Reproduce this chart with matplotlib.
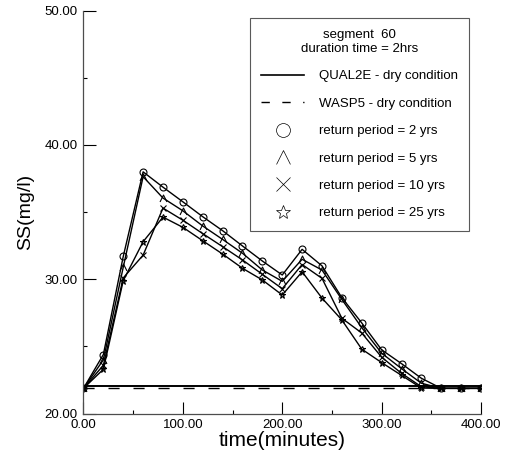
import numpy as np
import matplotlib
matplotlib.use('Agg')
import matplotlib.pyplot as plt
from matplotlib.lines import Line2D
from matplotlib.path import Path
from matplotlib.ticker import FormatStrFormatter, MultipleLocator

plt.rcParams['font.family'] = ['Liberation Sans', 'DejaVu Sans']

# time (minutes), one marker every 20 minutes
time = [0, 20, 40, 60, 80, 100, 120, 140, 160, 180, 200,
        220, 240, 260, 280, 300, 320, 340, 360, 380, 400]

# SS (mg/l) for each return period
ss_2yrs = [21.88, 24.4, 31.7, 38.0, 36.86, 35.77, 34.66, 33.62, 32.48, 31.36, 30.32,
           32.23, 31.0, 28.63, 26.75, 24.75, 23.72, 22.63, 21.88, 21.88, 21.88]
ss_5yrs = [21.88, 24.0, 30.9, 37.64, 36.05, 35.1, 33.97, 32.97, 31.94, 30.69, 29.85,
           31.49, 30.69, 28.5, 26.4, 24.5, 23.35, 22.26, 21.88, 21.88, 21.88]
ss_10yrs = [21.88, 23.6, 30.1, 31.8, 35.3, 34.4, 33.4, 32.43, 31.44, 30.37, 29.3,
            31.1, 30.07, 27.1, 26.0, 24.2, 23.0, 22.0, 21.88, 21.88, 21.88]
ss_25yrs = [21.88, 23.3, 29.9, 32.8, 34.63, 33.87, 32.87, 31.88, 30.82, 29.95, 28.83,
            30.56, 28.6, 26.97, 24.8, 23.8, 22.85, 21.9, 21.88, 21.88, 21.88]

# dry condition levels
qual2e_dry = 22.05
wasp5_dry = 21.88

# open caret marker, like the "/\" in the legend
caret = Path([(-1, -1), (0, 1), (1, -1)], [Path.MOVETO, Path.LINETO, Path.LINETO])

fig = plt.figure(figsize=(5.06, 4.63), dpi=100)
ax = fig.add_axes([0.165, 0.1067, 0.7856, 0.8702])

ax.axhline(qual2e_dry, color='black', lw=1.4)
ax.axhline(wasp5_dry, color='black', lw=1.0, dashes=(8, 10))

series = [(ss_2yrs, 'o', 'return period = 2 yrs'),
          (ss_5yrs, caret, 'return period = 5 yrs'),
          (ss_10yrs, 'x', 'return period = 10 yrs'),
          (ss_25yrs, '*', 'return period = 25 yrs')]

for vals, mk, lab in series:
   ax.plot(time, vals, color='black', lw=1.0, marker=mk, ms=5,
           mfc='none', mec='black', mew=0.8)

handles = [Line2D([], [], color='black', lw=1.2),
           Line2D([], [], color='black', lw=1.0, dashes=(6, 9))]
labels = ['QUAL2E - dry condition', 'WASP5 - dry condition']
for vals, mk, lab in series:
   handles.append(Line2D([], [], ls='none', marker=mk, ms=10, mfc='none',
                         mec='black', mew=0.5))
   labels.append(lab)

leg = ax.legend(handles, labels, title='segment  60\nduration time = 2hrs',
                loc='upper right', bbox_to_anchor=(0.97, 0.982), borderaxespad=0,
                fontsize=9.5, title_fontsize=9.5, handlelength=3.3,
                handletextpad=1.1, borderpad=0.85, labelspacing=1.15,
                fancybox=False, framealpha=1)
leg.get_title().set_multialignment('center')
leg.get_frame().set_edgecolor('0.35')
leg.get_frame().set_linewidth(0.8)

ax.set_xlim(0, 400)
ax.set_ylim(20, 50)
ax.xaxis.set_major_locator(MultipleLocator(100))
ax.xaxis.set_minor_locator(MultipleLocator(50))
ax.yaxis.set_major_locator(MultipleLocator(10))
ax.yaxis.set_minor_locator(MultipleLocator(5))
ax.xaxis.set_major_formatter(FormatStrFormatter('%.2f'))
ax.yaxis.set_major_formatter(FormatStrFormatter('%.2f'))
ax.tick_params(which='major', direction='in', length=9, width=0.8, labelsize=9.5, pad=4)
ax.tick_params(which='minor', direction='in', length=3, width=0.8)
ax.spines['top'].set_visible(False)
ax.spines['right'].set_visible(False)
for s in ['left', 'bottom']:
   ax.spines[s].set_color('0.3')
   ax.spines[s].set_linewidth(0.9)

ax.set_xlabel('time(minutes)', fontsize=15, labelpad=0)
ax.set_ylabel('SS(mg/l)', fontsize=14, labelpad=8)

fig.savefig('out.png', dpi=100)
